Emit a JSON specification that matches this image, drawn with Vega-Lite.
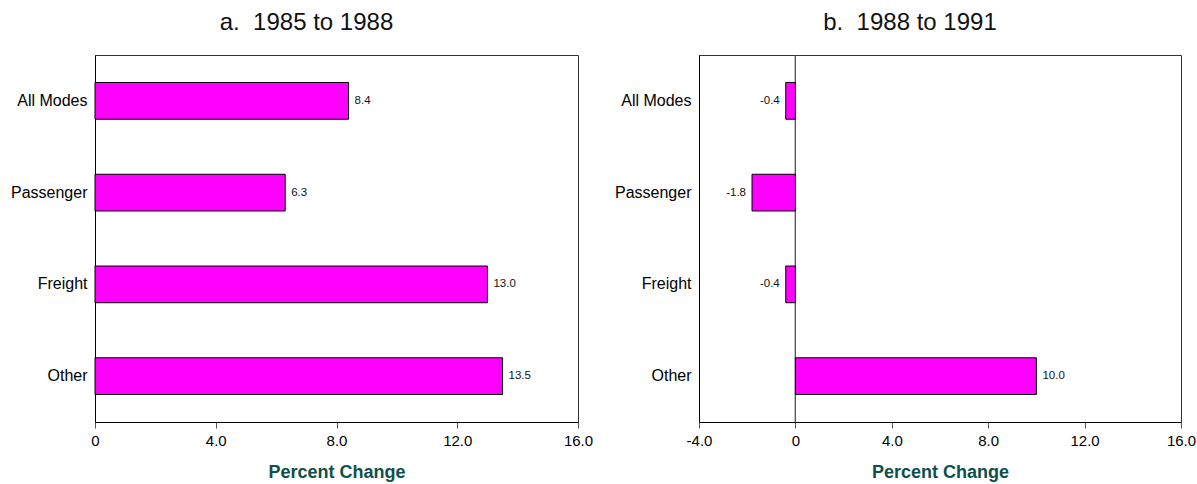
{
  "$schema": "https://vega.github.io/schema/vega-lite/v6.json",
  "background": "white",
  "padding": {"left": 10, "top": 10, "right": 0, "bottom": 0},
  "bounds": "flush",
  "spacing": 121,
  "datasets": {
    "a": [
      {"mode": "All Modes", "value": 8.4},
      {"mode": "Passenger", "value": 6.3},
      {"mode": "Freight", "value": 13.0},
      {"mode": "Other", "value": 13.5}
    ],
    "b": [
      {"mode": "All Modes", "value": -0.4},
      {"mode": "Passenger", "value": -1.8},
      {"mode": "Freight", "value": -0.4},
      {"mode": "Other", "value": 10.0}
    ]
  },
  "config": {
    "font": "Liberation Sans",
    "view": {"stroke": "#333", "strokeWidth": 1},
    "title": {"fontSize": 24, "fontWeight": "normal", "color": "#111", "dx": -30, "offset": 20, "font": "Liberation Sans"},
    "axisX": {
      "titleFontSize": 18,
      "titleFontWeight": "bold",
      "titleColor": "#0d4f4a",
      "titlePadding": 15,
      "labelFontSize": 15,
      "labelColor": "#000",
      "labelPadding": 5,
      "labelFlush": false,
      "tickColor": "#555",
      "tickSize": 6,
      "domainColor": "#000",
      "grid": false,
      "labelExpr": "datum.value === 0 ? '0' : replace(format(datum.value, '.1f'), '\u2212', '-')"
    },
    "axisY": {
      "title": null,
      "ticks": false,
      "labelFontSize": 16,
      "labelColor": "#000",
      "labelPadding": 8,
      "domainColor": "#000",
      "grid": false
    }
  },
  "hconcat": [
    {
      "width": 483,
      "height": 367,
      "title": "a.\u00a0 1985 to 1988",
      "data": {"name": "a"},
      "encoding": {
        "y": {"field": "mode", "type": "nominal", "sort": null, "scale": {"paddingInner": 0.6, "paddingOuter": 0.3}},
        "x": {"field": "value", "type": "quantitative", "scale": {"domain": [0, 16], "nice": false}, "axis": {"values": [0, 4, 8, 12, 16], "title": "Percent Change"}}
      },
      "layer": [
        {"mark": {"type": "bar", "fill": "#FF00FF", "stroke": "#000", "strokeWidth": 1}},
        {"mark": {"type": "text", "align": "left", "dx": 6, "fontSize": 11.5, "color": "#111",
                  "text": {"expr": "replace(format(datum.value, '.1f'), '\u2212', '-')"}}}
      ]
    },
    {
      "width": 482,
      "height": 367,
      "title": "b.\u00a0 1988 to 1991",
      "data": {"name": "b"},
      "encoding": {
        "y": {"field": "mode", "type": "nominal", "sort": null, "scale": {"paddingInner": 0.6, "paddingOuter": 0.3}},
        "x": {"field": "value", "type": "quantitative", "scale": {"domain": [-4, 16], "nice": false}, "axis": {"values": [-4, 0, 4, 8, 12, 16], "title": "Percent Change"}}
      },
      "layer": [
        {"mark": {"type": "rule", "color": "#555", "strokeWidth": 1}, "encoding": {"x": {"datum": 0}, "y": null}},
        {"mark": {"type": "bar", "fill": "#FF00FF", "stroke": "#000", "strokeWidth": 1}},
        {"transform": [{"filter": "datum.value >= 0"}],
         "mark": {"type": "text", "align": "left", "dx": 6, "fontSize": 11.5, "color": "#111",
                  "text": {"expr": "replace(format(datum.value, '.1f'), '\u2212', '-')"}}},
        {"transform": [{"filter": "datum.value < 0"}],
         "mark": {"type": "text", "align": "right", "dx": -6, "fontSize": 11.5, "color": "#111",
                  "text": {"expr": "replace(format(datum.value, '.1f'), '\u2212', '-')"}}}
      ]
    }
  ]
}
